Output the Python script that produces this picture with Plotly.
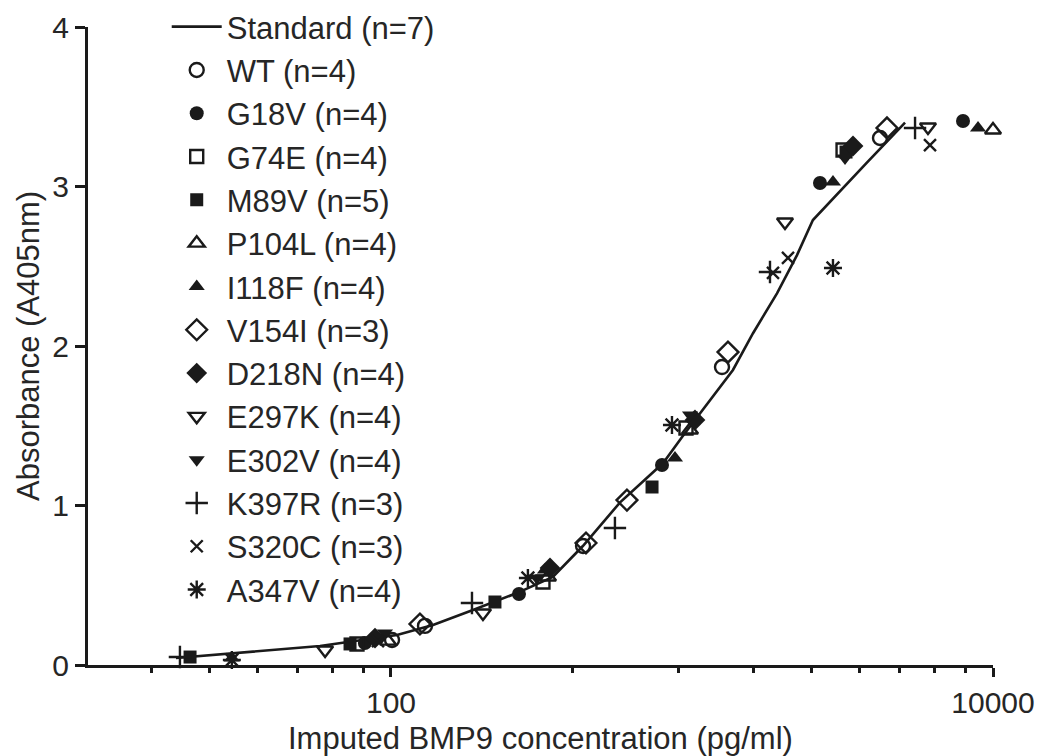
import plotly.graph_objects as go

# Standard curve (imputed concentration in pg/ml vs absorbance at 405 nm)
std_conc = [19.3, 58.1, 104.7, 137.9, 187.2, 262, 345, 434, 577, 802, 927,
            1064, 1368, 1595, 1916, 2233, 2522, 3811, 5103]
std_abs = [0.044, 0.119, 0.188, 0.251, 0.345, 0.451, 0.552, 0.746, 1.02, 1.266,
           1.43, 1.58, 1.85, 2.08, 2.33, 2.57, 2.79, 3.15, 3.40]

# Variant samples
wt_conc = [100.8, 129.7, 434.5, 1258, 4213]
wt_abs = [0.157, 0.245, 0.746, 1.868, 3.304]

g18v_conc = [81.9, 266.2, 795, 2662, 7950]
g18v_abs = [0.138, 0.445, 1.254, 3.022, 3.411]

g74e_conc = [77.1, 319.8, 955, 3176]
g74e_abs = [0.132, 0.520, 1.486, 3.229]

m89v_conc = [21.5, 73.1, 221.5, 736.6, 3249]
m89v_abs = [0.050, 0.132, 0.395, 1.116, 3.216]

p104l_conc = [97.7, 332.4, 985, 10000]
p104l_abs = [0.150, 0.552, 1.473, 3.354]

i118f_conc = [29.6, 324.8, 878, 2940, 8917]
i118f_abs = [0.044, 0.596, 1.298, 3.028, 3.367]

v154i_conc = [124.8, 444.5, 608, 1317, 4444]
v154i_abs = [0.257, 0.765, 1.034, 1.962, 3.367]

d218n_conc = [88.5, 337.5, 1023, 3427]
d218n_abs = [0.169, 0.608, 1.536, 3.254]

e297k_conc = [60.4, 202.1, 2037, 6081]
e297k_abs = [0.094, 0.326, 2.777, 3.373]

e302v_conc = [95.5, 305.5, 985, 3224]
e302v_abs = [0.201, 0.545, 1.567, 3.179]

k397r_conc = [19.9, 185.8, 554.6, 1816, 5508]
k397r_abs = [0.050, 0.389, 0.859, 2.464, 3.367]

s320c_conc = [90.5, 1858, 2084, 6176]
s320c_abs = [0.150, 2.458, 2.552, 3.260]

a347v_conc = [29.6, 285, 858, 2940]
a347v_abs = [0.031, 0.545, 1.505, 2.489]

series = [
    ("WT (n=4)", wt_conc, wt_abs, "circle-open", 14),
    ("G18V (n=4)", g18v_conc, g18v_abs, "circle", 14),
    ("G74E (n=4)", g74e_conc, g74e_abs, "square-open", 13),
    ("M89V (n=5)", m89v_conc, m89v_abs, "square", 13),
    ("P104L (n=4)", p104l_conc, p104l_abs, "triangle-up-open", 14),
    ("I118F (n=4)", i118f_conc, i118f_abs, "triangle-up", 14),
    ("V154I (n=3)", v154i_conc, v154i_abs, "diamond-open", 16),
    ("D218N (n=4)", d218n_conc, d218n_abs, "diamond", 16),
    ("E297K (n=4)", e297k_conc, e297k_abs, "triangle-down-open", 14),
    ("E302V (n=4)", e302v_conc, e302v_abs, "triangle-down", 14),
    ("K397R (n=3)", k397r_conc, k397r_abs, "cross-thin-open", 16),
    ("S320C (n=3)", s320c_conc, s320c_abs, "x-thin-open", 12),
    ("A347V (n=4)", a347v_conc, a347v_abs, "asterisk-open", 15),
]

# Axis ticks and titles
x_major = [100, 10000]
x_major_text = ["100", "10000"]
x_minor = [16, 25, 36, 49, 64, 81, 400, 900, 1600, 2500, 3600, 4900, 6400, 8100]
y_ticks = [0, 1, 2, 3, 4]
x_title = "Imputed BMP9 concentration (pg/ml)"
y_title = "Absorbance (A405nm)"

INK = "#1a1a1a"
TEXT = "#262626"
FONT = "Liberation Sans, Arial, sans-serif"

fig = go.Figure()

fig.add_trace(go.Scatter(
    x=std_conc, y=std_abs, mode="lines", name="Standard (n=7)",
    line=dict(color=INK, width=2.6), legendgroup="std", cliponaxis=False,
))

for i, (name, xs, ys, sym, size) in enumerate(series):
    filled = not sym.endswith("-open")
    fig.add_trace(go.Scatter(
        x=xs, y=ys, mode="markers", name=name, legendgroup=f"g{i}",
        cliponaxis=False,
        marker=dict(symbol=sym, size=size, color=INK,
                    line=dict(color=INK, width=0 if filled else 2.4)),
    ))

title_font = dict(family=FONT, size=31, color=TEXT)

fig.update_layout(
    width=1042, height=756,
    margin=dict(l=88, r=49, t=27, b=91, autoexpand=False),
    paper_bgcolor="white", plot_bgcolor="white",
    font=dict(family=FONT, size=31, color=TEXT),
    showlegend=True,
    legend=dict(
        xref="container", yref="container",
        x=0.160, y=1.001, xanchor="left", yanchor="top",
        bgcolor="rgba(0,0,0,0)", borderwidth=0,
        font=dict(family=FONT, size=31, color=TEXT),
        itemwidth=50, tracegroupgap=0, maxheight=750,
    ),
    xaxis=dict(
        type="log", range=[0.9934, 4.0], automargin=False,
        showgrid=False, zeroline=False,
        showline=True, linecolor=INK, linewidth=3,
        tickmode="array", tickvals=x_major, ticktext=x_major_text,
        ticks="outside", ticklen=9, tickwidth=2.5, tickcolor=INK,
        tickfont=dict(family=FONT, size=30, color=TEXT),
        minor=dict(tickmode="array", tickvals=x_minor, ticks="outside",
                   ticklen=5, tickwidth=2.5, tickcolor=INK, showgrid=False),
    ),
    yaxis=dict(
        range=[0, 4], automargin=False,
        showgrid=False, zeroline=False,
        showline=True, linecolor=INK, linewidth=3,
        tickmode="array", tickvals=y_ticks,
        ticks="outside", ticklen=10, tickwidth=2.5, tickcolor=INK,
        tickfont=dict(family=FONT, size=30, color=TEXT),
    ),
    annotations=[
        dict(text=x_title, xref="paper", yref="paper", x=0.5, y=-0.1145,
             xanchor="center", yanchor="middle", showarrow=False, font=title_font),
        dict(text=y_title, xref="paper", yref="paper", x=-0.0663, y=0.5,
             xanchor="center", yanchor="middle", textangle=-90,
             showarrow=False, font=title_font),
    ],
)

fig.write_html("out.html")
